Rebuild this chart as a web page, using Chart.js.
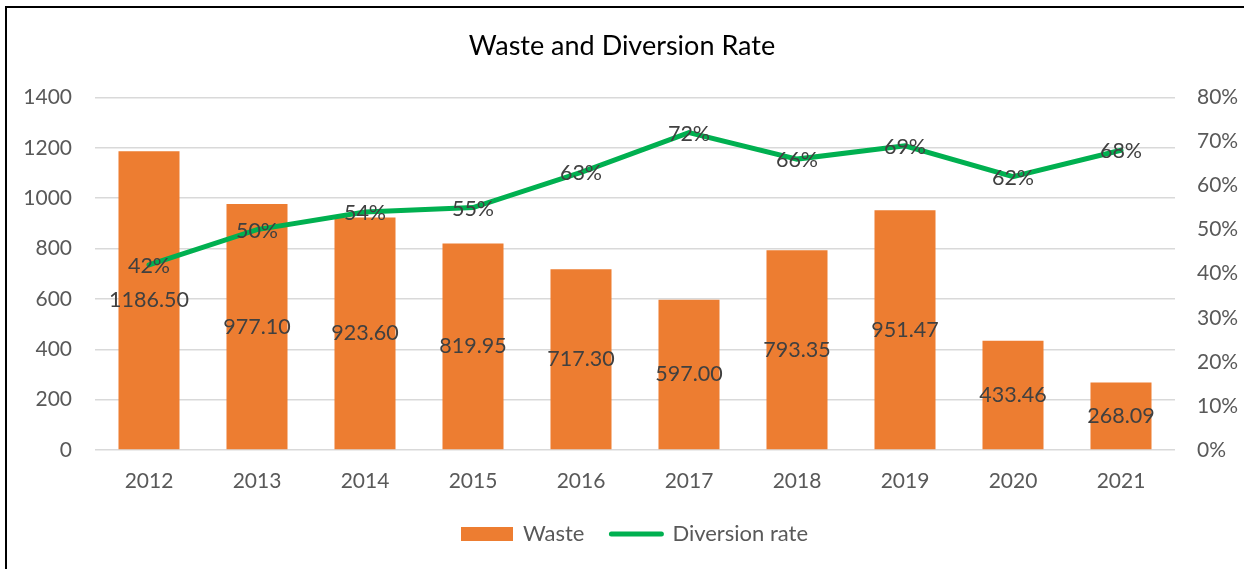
<!DOCTYPE html>
<html>
<head>
<meta charset="utf-8">
<script src="https://cdn.jsdelivr.net/npm/chart.js@4/dist/chart.umd.min.js"></script>
<style>
  html, body { margin: 0; padding: 0; background: #fff; overflow: hidden; }
  #wrap { position: relative; width: 1244px; height: 569px; }
  #frame { position: absolute; left: 5px; top: 6px; width: 1300px; height: 700px; border: 2px solid #000; box-sizing: border-box; pointer-events: none; }
</style>
</head>
<body>
<div id="wrap">
  <canvas id="wasteChart" width="1244" height="569"></canvas>
  <div id="frame"></div>
</div>
<script>
const years = ['2012', '2013', '2014', '2015', '2016', '2017', '2018', '2019', '2020', '2021'];
const waste = [1186.50, 977.10, 923.60, 819.95, 717.30, 597.00, 793.35, 951.47, 433.46, 268.09];
const diversionRate = [0.42, 0.50, 0.54, 0.55, 0.63, 0.72, 0.66, 0.69, 0.62, 0.68];

const FONT = 'Lato, "Open Sans", sans-serif';
const ORANGE = '#ED7D31';
const GREEN = '#00B050';

// small orange block for the legend
const legendBox = document.createElement('canvas');
legendBox.width = 52;
legendBox.height = 14;
const lbCtx = legendBox.getContext('2d');
lbCtx.fillStyle = ORANGE;
lbCtx.fillRect(0, 0, 52, 14);

// value labels drawn on top of bars and line
const valueLabels = {
    id: 'valueLabels',
    afterDatasetsDraw(chart) {
        const ctx = chart.ctx;
        ctx.save();
        ctx.font = '21.5px ' + FONT;
        ctx.fillStyle = '#404040';
        ctx.textAlign = 'center';
        ctx.textBaseline = 'middle';
        chart.data.datasets.forEach((ds, i) => {
            const meta = chart.getDatasetMeta(i);
            meta.data.forEach((el, j) => {
                if (ds.type === 'bar') {
                    const mid = (el.y + el.base) / 2;
                    ctx.fillText(ds.data[j].toFixed(2), el.x, mid);
                } else {
                    ctx.fillText(Math.round(ds.data[j] * 100) + '%', el.x, el.y + 1);
                }
            });
        });
        ctx.restore();
    }
};

// the legend sits a little right of centre in the original
const legendShift = {
    id: 'legendShift',
    afterLayout(chart) {
        chart.legend.left += 13;
        chart.legend.right += 13;
    }
};

new Chart(document.getElementById('wasteChart'), {
    data: {
        labels: years,
        datasets: [{
            type: 'bar',
            label: 'Waste',
            data: waste,
            backgroundColor: ORANGE,
            yAxisID: 'y',
            order: 2,
            barPercentage: 0.565,
            categoryPercentage: 1
        }, {
            type: 'line',
            label: 'Diversion rate',
            data: diversionRate,
            borderColor: GREEN,
            backgroundColor: GREEN,
            borderWidth: 5,
            borderCapStyle: 'round',
            pointRadius: 0,
            tension: 0,
            yAxisID: 'y1',
            order: 1
        }]
    },
    options: {
        responsive: false,
        animation: false,
        layout: { padding: { left: 0, right: 0, top: 0, bottom: 14 } },
        plugins: {
            title: {
                display: true,
                text: 'Waste and Diversion Rate',
                color: '#000',
                font: { family: FONT, size: 27, weight: 'normal' },
                padding: { top: 30, bottom: 35 }
            },
            legend: {
                position: 'bottom',
                labels: {
                    color: '#595959',
                    font: { family: FONT, size: 22 },
                    usePointStyle: true,
                    pointStyleWidth: 50,
                    boxWidth: 50,
                    boxHeight: 14,
                    padding: 27,
                    sort: (a, b) => a.datasetIndex - b.datasetIndex,
                    generateLabels(chart) {
                        const items = Chart.defaults.plugins.legend.labels.generateLabels(chart);
                        items.forEach(it => {
                            if (it.datasetIndex === 0) {
                                it.pointStyle = legendBox;
                            } else {
                                it.pointStyle = 'line';
                                it.lineWidth = 5;
                                it.lineCap = 'round';
                            }
                        });
                        return items;
                    }
                }
            },
            tooltip: { enabled: false }
        },
        scales: {
            x: {
                grid: { display: false },
                border: { display: false },
                ticks: { color: '#595959', font: { family: FONT, size: 21 }, padding: 11 },
                afterFit(scale) { scale.height = 46; }
            },
            y: {
                position: 'left',
                min: 0,
                max: 1400,
                ticks: {
                    stepSize: 200,
                    color: '#595959',
                    font: { family: FONT, size: 21 },
                    padding: 23,
                    callback: v => String(v)
                },
                grid: { color: '#d9d9d9', lineWidth: 1.5, drawTicks: false },
                border: { display: false },
                afterFit(scale) { scale.width = 95; }
            },
            y1: {
                position: 'right',
                min: 0,
                max: 0.8,
                ticks: {
                    stepSize: 0.1,
                    color: '#595959',
                    font: { family: FONT, size: 21 },
                    padding: 22,
                    callback: v => Math.round(v * 100) + '%'
                },
                grid: { display: false, drawTicks: false },
                border: { display: false },
                afterFit(scale) { scale.width = 69; }
            }
        }
    },
    plugins: [valueLabels, legendShift]
});
</script>
</body>
</html>
